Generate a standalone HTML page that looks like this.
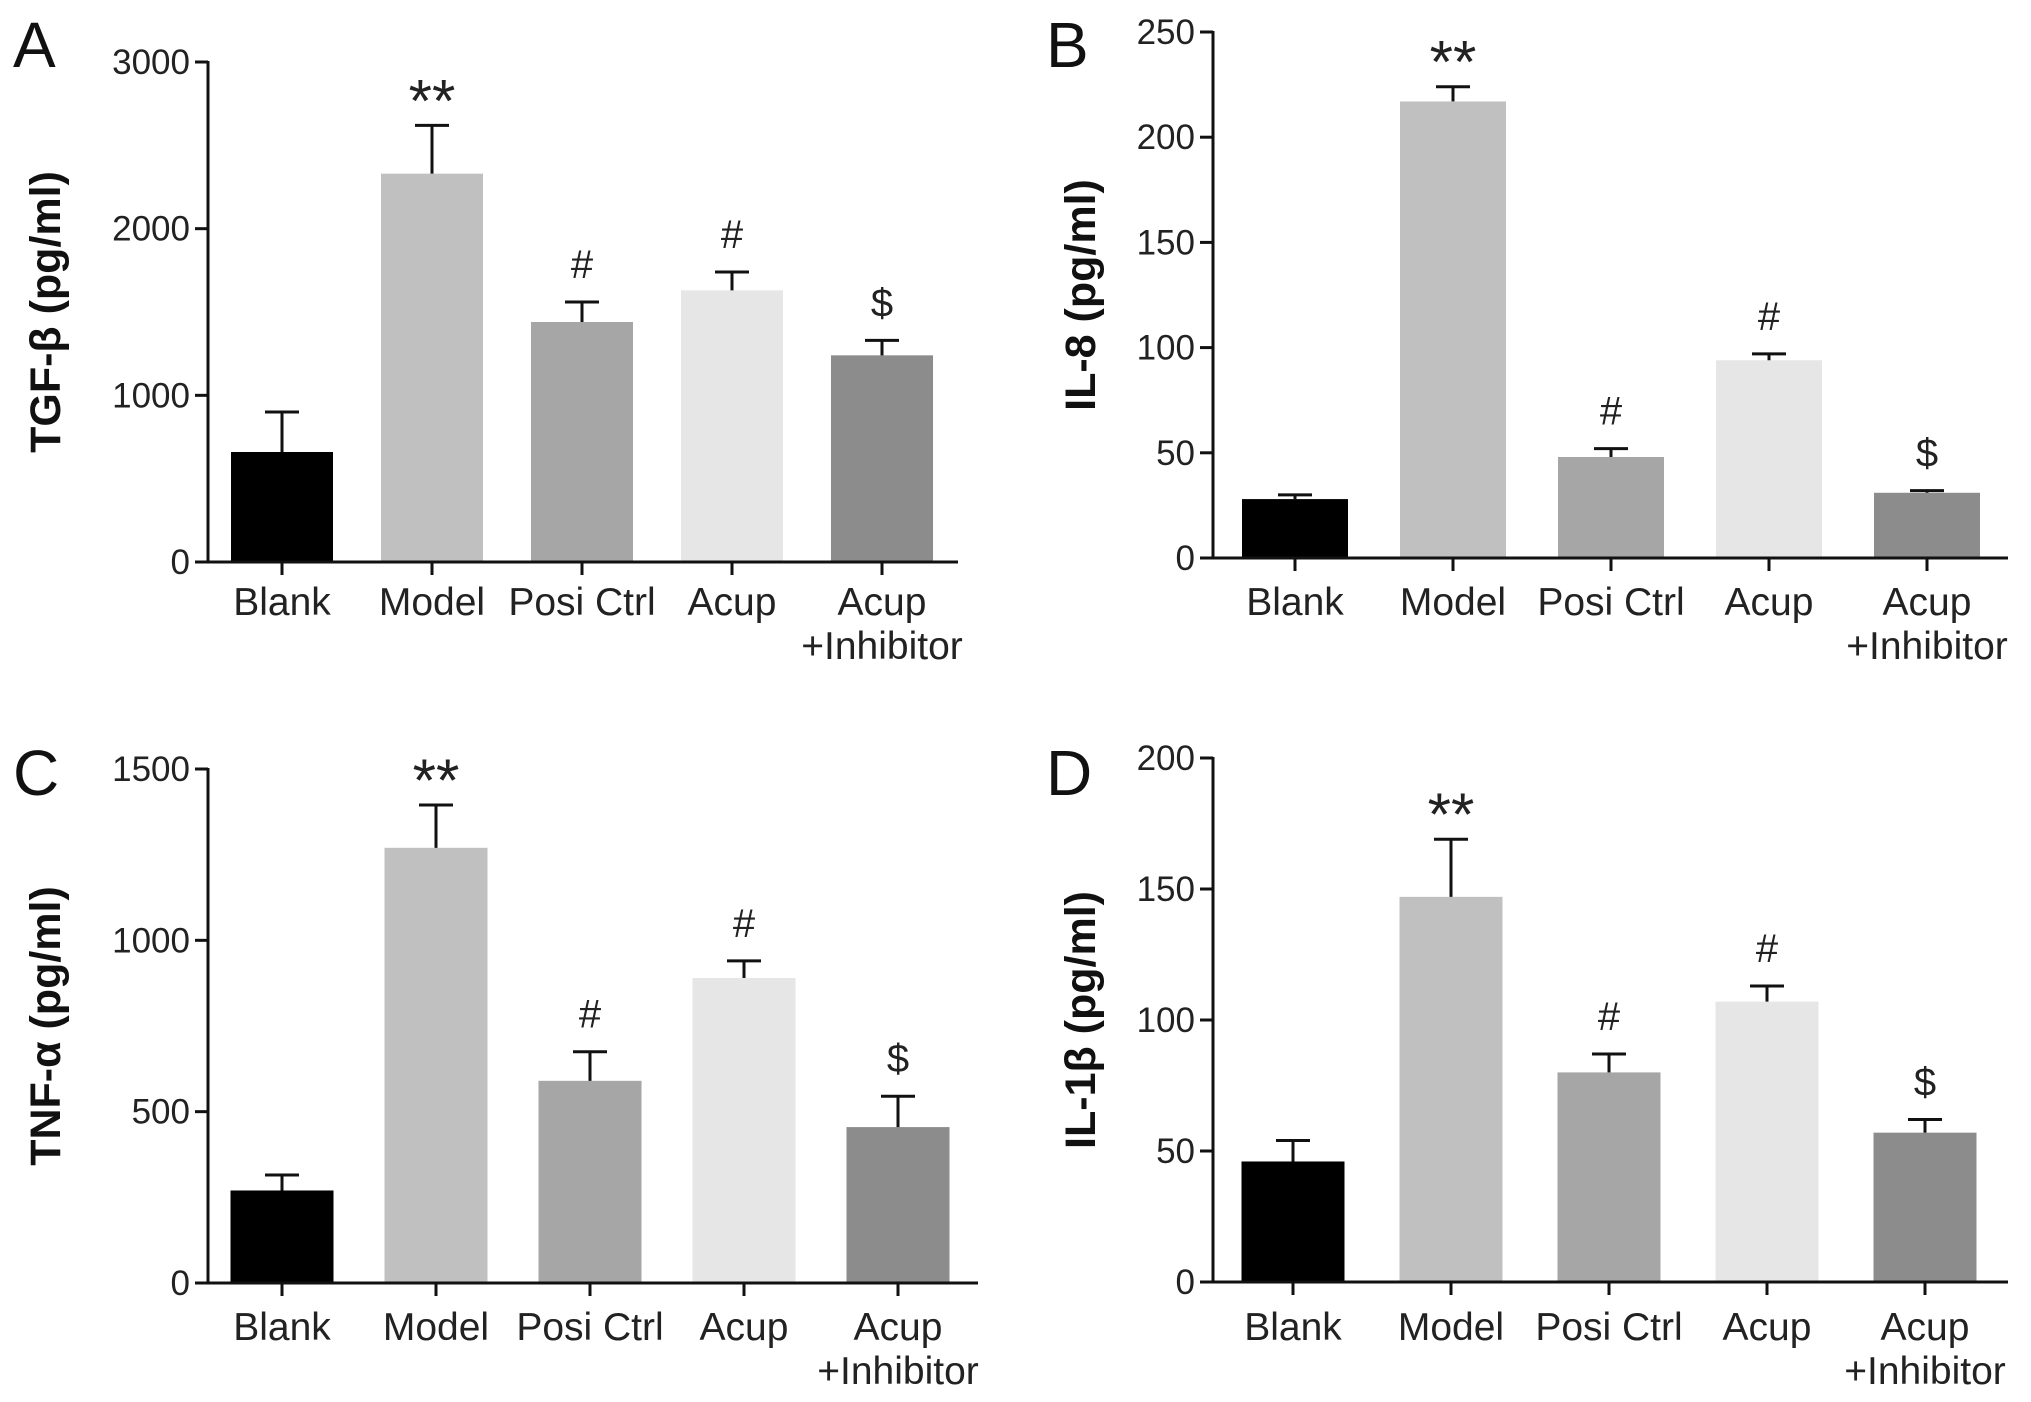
<!DOCTYPE html>
<html><head><meta charset="utf-8"><style>
html,body{margin:0;padding:0;background:#fff;}
svg{display:block;font-family:"Liberation Sans",Arial,sans-serif;}
</style></head><body>
<svg id="fig" width="2031" height="1402" viewBox="0 0 2031 1402" xmlns="http://www.w3.org/2000/svg"></svg>
<script>
const categories = ["Blank","Model","Posi Ctrl","Acup","Acup|+Inhibitor"];
const colors = ["#000000","#c0c0c0","#a6a6a6","#e6e6e6","#8c8c8c"];
const tgfValues = [660,2330,1440,1630,1240];
const tgfErrors = [900,2620,1560,1740,1330];
const tgfTicks = [0,1000,2000,3000];
const il8Values = [28,217,48,94,31];
const il8Errors = [30,224,52,97,32];
const il8Ticks = [0,50,100,150,200,250];
const tnfValues = [270,1270,590,890,455];
const tnfErrors = [315,1395,675,940,545];
const tnfTicks = [0,500,1000,1500];
const il1Values = [46,147,80,107,57];
const il1Errors = [54,169,87,113,62];
const il1Ticks = [0,50,100,150,200];
const marksAll = ["","**","#","#","$"];

const NS="http://www.w3.org/2000/svg";
const svg=document.getElementById('fig');
function el(tag,attrs,parent){const e=document.createElementNS(NS,tag);for(const k in attrs)e.setAttribute(k,attrs[k]);(parent||svg).appendChild(e);return e;}

const panels=[
 {id:"a",letter:"A",title:"TGF-β (pg/ml)",vals:tgfValues,errs:tgfErrors,ticks:tgfTicks,ax:208,y0:562,yTop:62,xEnd:958,c0:282,pitch:150,bw:102,lx:13,ly:67,tx:46,catY:615},
 {id:"b",letter:"B",title:"IL-8 (pg/ml)",vals:il8Values,errs:il8Errors,ticks:il8Ticks,ax:1213,y0:558,yTop:32,xEnd:2008,c0:1295,pitch:158,bw:106,lx:1046,ly:67,tx:1081,catY:615},
 {id:"c",letter:"C",title:"TNF-α (pg/ml)",vals:tnfValues,errs:tnfErrors,ticks:tnfTicks,ax:208,y0:1283,yTop:769,xEnd:978,c0:282,pitch:154,bw:103,lx:13,ly:795,tx:46,catY:1340},
 {id:"d",letter:"D",title:"IL-1β (pg/ml)",vals:il1Values,errs:il1Errors,ticks:il1Ticks,ax:1213,y0:1282,yTop:758,xEnd:2008,c0:1293,pitch:158,bw:103,lx:1046,ly:795,tx:1081,catY:1340}
];

panels.forEach(p=>{
  const g=el('g',{});
  
  
  const maxV=p.ticks[p.ticks.length-1];
  const y=v=>p.y0-(v/maxV)*(p.y0-p.yTop);
  const xc=i=>p.c0+i*p.pitch;
  const L=el('text',{x:p.lx,y:p.ly,'font-size':64,fill:'#111'},g);L.textContent=p.letter;
  
  
  const cy=(p.y0+p.yTop)/2;
  const T=el('text',{x:p.tx,y:cy,'font-size':43,'font-weight':'bold','text-anchor':'middle',fill:'#111',transform:`rotate(-90 ${p.tx} ${cy})`,'dominant-baseline':'central'},g);
  T.textContent=p.title;
  
  
  p.vals.forEach((v,i)=>{
    const b=el('rect',{x:xc(i)-p.bw/2,y:y(v),width:p.bw,height:p.y0-y(v),fill:colors[i]},g);
    
    
    const e=el('path',{d:`M${xc(i)},${y(v)}V${y(p.errs[i])}M${xc(i)-17},${y(p.errs[i])}H${xc(i)+17}`,stroke:'#111','stroke-width':3,fill:'none'},g);
    
    
    if(marksAll[i]){
      const isStar=marksAll[i]==="**";
      const m=el('text',{x:xc(i),y:y(p.errs[i])-(isStar?4:24),'font-size':isStar?60:40,'text-anchor':'middle',fill:'#222'},g);
      m.textContent=marksAll[i];
      
      
    }
    const parts=categories[i].split('|');
    const c=el('text',{x:xc(i),y:p.catY,'font-size':39,'text-anchor':'middle',fill:'#222'},g);
    
    
    parts.forEach((t,k)=>{const s=el('tspan',{x:xc(i),dy:k?44:0},c);s.textContent=t;});
    el('line',{x1:xc(i),x2:xc(i),y1:p.y0,y2:p.y0+13,stroke:'#111','stroke-width':3},g);
  });
  const ya=el('line',{x1:p.ax,x2:p.ax,y1:p.yTop-1,y2:p.y0+1.5,stroke:'#111','stroke-width':3},g);
  
  
  const xa=el('line',{x1:p.ax-1.5,x2:p.xEnd,y1:p.y0,y2:p.y0,stroke:'#111','stroke-width':3},g);
  
  
  p.ticks.forEach(t=>{
    el('line',{x1:p.ax-13,x2:p.ax,y1:y(t),y2:y(t),stroke:'#111','stroke-width':3},g);
    const tl=el('text',{x:p.ax-18,y:y(t)+12,'font-size':35,'text-anchor':'end',fill:'#222'},g);
    tl.textContent=t;
    
    
  });
});
</script>
</body></html>
